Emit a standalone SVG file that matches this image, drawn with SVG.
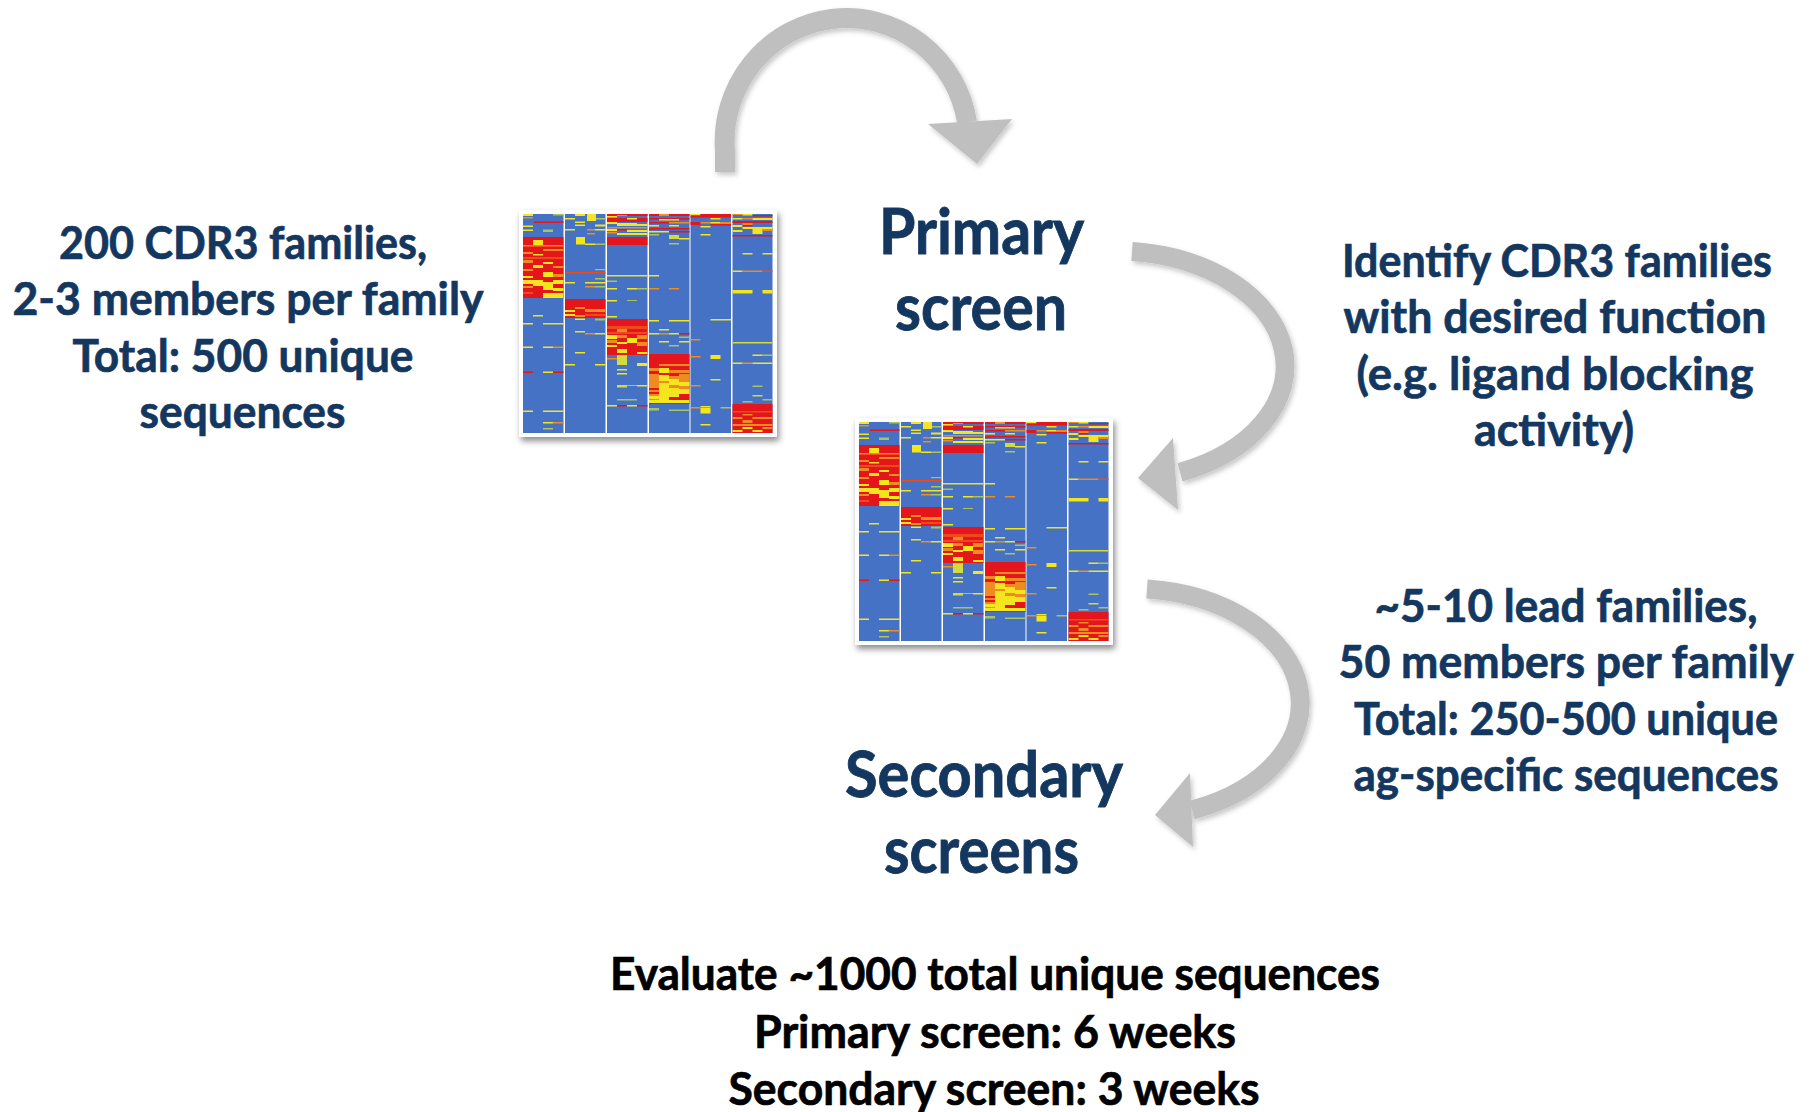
<svg xmlns="http://www.w3.org/2000/svg" xmlns:xlink="http://www.w3.org/1999/xlink" width="1815" height="1112" viewBox="0 0 1815 1112">
<style>
.t{font-family:Lato,"Open Sans","Liberation Sans",sans-serif;font-weight:700;fill:#14375f;stroke:#14375f;stroke-width:0.7;text-anchor:middle}
.body{font-size:46px}
.title{font-size:64px;stroke-width:0.9}
.blk{fill:#000;stroke:#000}
.b{fill:#4472c4}.r{fill:#e4141b}.ro{fill:#ec4a1e}.o{fill:#f08a22}.y{fill:#f3e61d}.yg{fill:#d2dc3c}.g{fill:#a8c45e}
.arr{fill:none;stroke:#bfbfbf;stroke-linecap:butt}
.head{fill:#bfbfbf}
</style>
<defs>
<filter id="shadow" x="-10%" y="-10%" width="130%" height="130%">
<feDropShadow dx="2" dy="4" stdDeviation="3" flood-color="#000" flood-opacity="0.45"/>
</filter>
<filter id="ashadow" x="-10%" y="-10%" width="130%" height="130%">
<feDropShadow dx="2" dy="3" stdDeviation="2.5" flood-color="#000" flood-opacity="0.22"/>
</filter>
<filter id="soft" x="0" y="0" width="100%" height="100%">
<feGaussianBlur stdDeviation="0.35"/>
</filter>
<g id="hm">
<rect x="0" y="0" width="249.5" height="219" fill="#fff"/>
<rect class="b" x="0" y="0" width="40.5" height="219"/>
<rect class="b" x="42" y="0" width="40.5" height="219"/>
<rect class="b" x="84" y="0" width="40.5" height="219"/>
<rect class="b" x="126" y="0" width="40.5" height="219"/>
<rect class="b" x="167.5" y="0" width="40.5" height="219"/>
<rect class="b" x="209.5" y="0" width="40" height="219"/>
<!-- column 1 -->
<rect class="y" x="0" y="0" width="10" height="2"/>
<rect class="o" x="0" y="3" width="10" height="1.5"/>
<rect class="g" x="30" y="0" width="10.5" height="1.5"/>
<rect class="r" x="11" y="7.5" width="29.5" height="1.5"/>
<rect class="y" x="0" y="11.5" width="10" height="1.5"/>
<rect class="y" x="0" y="15.5" width="10" height="1.5"/>
<rect class="g" x="20" y="15.5" width="10" height="2.5"/>
<rect class="r" x="0" y="23" width="40.5" height="61"/>
<rect class="y" x="10" y="26" width="10" height="5"/>
<rect class="o" x="0" y="31" width="40.5" height="1.5"/>
<rect class="o" x="20" y="35" width="20.5" height="2"/>
<rect class="o" x="0" y="38" width="10" height="2"/>
<rect class="y" x="10" y="40" width="10" height="1.5"/>
<rect class="ro" x="0" y="43" width="40.5" height="2"/>
<rect class="o" x="0" y="46" width="10" height="3"/>
<rect class="y" x="20" y="48" width="10" height="2"/>
<rect class="y" x="10" y="51" width="10" height="3"/>
<rect class="o" x="30" y="52" width="10.5" height="2"/>
<rect class="o" x="0" y="55" width="10" height="2"/>
<rect class="y" x="20" y="58" width="10" height="5"/>
<rect class="o" x="30" y="60" width="10.5" height="3"/>
<rect class="y" x="0" y="62" width="10" height="2"/>
<rect class="y" x="0" y="66" width="20" height="4"/>
<rect class="y" x="10" y="70" width="10" height="2"/>
<rect class="y" x="20" y="68" width="10" height="8"/>
<rect class="y" x="30" y="66" width="10.5" height="4"/>
<rect class="y" x="30" y="74" width="10.5" height="3"/>
<rect class="o" x="0" y="72" width="10" height="2"/>
<rect class="y" x="20" y="79" width="20.5" height="5"/>
<rect class="ro" x="0" y="78" width="10" height="2"/>
<rect class="y" x="10" y="101" width="10" height="1.5"/>
<rect class="y" x="0" y="109" width="10" height="1.5"/>
<rect class="y" x="20" y="109" width="20.5" height="1.5"/>
<rect class="y" x="0" y="132.5" width="10" height="1.5"/>
<rect class="y" x="20" y="132.5" width="10" height="1.5"/>
<rect class="o" x="30" y="132.5" width="10.5" height="1.5"/>
<rect class="r" x="0" y="157.5" width="10" height="1.5"/>
<rect class="y" x="20" y="157.5" width="10" height="1.5"/>
<rect class="r" x="30" y="157.5" width="10.5" height="1.5"/>
<rect class="y" x="0" y="196.5" width="10" height="1.5"/>
<rect class="y" x="20" y="196.5" width="20.5" height="1.5"/>
<rect class="y" x="20" y="208" width="10" height="1.5"/>
<rect class="o" x="30" y="208" width="10.5" height="1.5"/>
<rect class="g" x="20" y="214" width="10" height="1.5"/>
<!-- column 2 -->
<rect class="y" x="52" y="0" width="10" height="2"/>
<rect class="y" x="64" y="0" width="9" height="7"/>
<rect class="y" x="42" y="4" width="10" height="1.5"/>
<rect class="g" x="73" y="4" width="9.5" height="1.5"/>
<rect class="y" x="52" y="7.5" width="10" height="1.5"/>
<rect class="y" x="52" y="10.5" width="10" height="1.5"/>
<rect class="y" x="72" y="10.5" width="10.5" height="2"/>
<rect class="y" x="42" y="15" width="10" height="1.5"/>
<rect class="o" x="64" y="15" width="8" height="1.5"/>
<rect class="y" x="72" y="15" width="10.5" height="1.5"/>
<rect class="o" x="64" y="19" width="8" height="1.5"/>
<rect class="y" x="53" y="23" width="9" height="7.5"/>
<rect class="y" x="62" y="29.5" width="10" height="1.5"/>
<rect class="g" x="72" y="29.5" width="10.5" height="1.5"/>
<rect class="g" x="72" y="55" width="10.5" height="1.2"/>
<rect class="ro" x="42" y="58" width="40.5" height="1.5"/>
<rect class="g" x="72" y="64" width="10.5" height="1.5"/>
<rect class="y" x="42" y="68" width="10" height="1.5"/>
<rect class="y" x="62" y="68" width="20.5" height="1.5"/>
<rect class="o" x="62" y="72" width="10" height="1.5"/>
<rect class="g" x="72" y="72" width="10.5" height="1.5"/>
<rect class="r" x="42" y="85" width="40.5" height="19"/>
<rect class="o" x="52" y="93" width="10" height="2"/>
<rect class="y" x="42" y="96" width="10" height="2"/>
<rect class="o" x="62" y="95" width="20.5" height="3"/>
<rect class="y" x="42" y="100" width="10" height="2"/>
<rect class="o" x="52" y="101" width="10" height="2"/>
<rect class="ro" x="62" y="100" width="20.5" height="2"/>
<rect class="y" x="52" y="104.5" width="10" height="1.5"/>
<rect class="g" x="72" y="104.5" width="10.5" height="2"/>
<rect class="y" x="52" y="117" width="10" height="1.5"/>
<rect class="o" x="62" y="119" width="10" height="1.5"/>
<rect class="y" x="72" y="119" width="10.5" height="1.5"/>
<rect class="y" x="52" y="138" width="10" height="1.5"/>
<rect class="y" x="42" y="150" width="10" height="1.5"/>
<rect class="y" x="72" y="150" width="10.5" height="1.5"/>
<!-- column 3 -->
<rect class="r" x="84" y="0" width="40.5" height="2"/>
<rect class="o" x="94" y="1" width="10" height="1"/>
<rect class="y" x="84" y="2" width="10" height="1.5"/>
<rect class="r" x="84" y="4" width="40.5" height="4"/>
<rect class="y" x="104" y="4" width="10" height="1.5"/>
<rect class="y" x="84" y="8" width="10" height="2"/>
<rect class="y" x="94" y="9" width="20" height="3"/>
<rect class="y" x="114" y="10" width="10.5" height="2"/>
<rect class="o" x="84" y="13" width="40.5" height="1.5"/>
<rect class="y" x="84" y="15" width="10" height="2"/>
<rect class="r" x="94" y="15" width="10" height="1.5"/>
<rect class="y" x="104" y="16" width="20.5" height="2"/>
<rect class="o" x="84" y="18" width="10" height="1.5"/>
<rect class="y" x="94" y="19" width="30.5" height="2"/>
<rect class="r" x="84" y="23" width="40.5" height="8"/>
<rect class="y" x="84" y="61" width="40.5" height="1.5"/>
<rect class="g" x="84" y="66.5" width="10" height="1.5"/>
<rect class="y" x="84" y="74" width="10" height="1.5"/>
<rect class="y" x="104" y="74" width="10" height="1.5"/>
<rect class="g" x="114" y="74" width="10.5" height="1.5"/>
<rect class="y" x="84" y="86" width="10" height="1.5"/>
<rect class="g" x="104" y="86" width="10" height="1"/>
<rect class="y" x="84" y="102" width="10" height="1.5"/>
<rect class="r" x="84" y="105" width="40.5" height="36"/>
<rect class="ro" x="84" y="112" width="40.5" height="3"/>
<rect class="o" x="94" y="115" width="10" height="3"/>
<rect class="ro" x="84" y="118" width="40.5" height="2"/>
<rect class="y" x="84" y="121" width="10" height="4"/>
<rect class="o" x="94" y="121" width="10" height="3"/>
<rect class="y" x="104" y="124" width="10" height="5"/>
<rect class="o" x="114" y="121" width="10.5" height="4"/>
<rect class="o" x="84" y="126" width="10" height="3"/>
<rect class="y" x="94" y="128" width="10" height="2"/>
<rect class="o" x="114" y="128" width="10.5" height="4"/>
<rect class="y" x="84" y="131" width="10" height="2"/>
<rect class="y" x="94" y="135" width="10" height="4"/>
<rect class="y" x="114" y="138" width="10.5" height="2"/>
<rect class="yg" x="94" y="141" width="10" height="10"/>
<rect class="y" x="114" y="149" width="10.5" height="3"/>
<rect class="o" x="84" y="144" width="10" height="1.5"/>
<rect class="y" x="94" y="155" width="10" height="1.5"/>
<rect class="y" x="94" y="159" width="10" height="1.5"/>
<rect class="yg" x="94" y="171" width="10" height="2.5"/>
<rect class="g" x="104" y="171" width="10" height="1"/>
<rect class="y" x="114" y="171" width="10.5" height="1.5"/>
<rect class="g" x="94" y="185" width="20" height="1.5"/>
<rect class="y" x="84" y="191" width="10" height="1.5"/>
<rect class="r" x="94" y="191" width="10" height="1.5"/>
<rect class="y" x="104" y="191" width="10" height="1.5"/>
<rect class="r" x="114" y="191" width="10.5" height="1.5"/>
<!-- column 4 -->
<rect class="r" x="126" y="0" width="40.5" height="2"/>
<rect class="o" x="136" y="0" width="10" height="2"/>
<rect class="r" x="126" y="4" width="40.5" height="1.5"/>
<rect class="y" x="136" y="5" width="20" height="1.5"/>
<rect class="r" x="126" y="8" width="20" height="1.5"/>
<rect class="o" x="146" y="8" width="20.5" height="1.5"/>
<rect class="y" x="126" y="11" width="10" height="1.5"/>
<rect class="y" x="146" y="11" width="10" height="1.5"/>
<rect class="r" x="126" y="14" width="40.5" height="1.5"/>
<rect class="y" x="126" y="17" width="20" height="1.5"/>
<rect class="r" x="146" y="17" width="20.5" height="1.5"/>
<rect class="g" x="126" y="20" width="10" height="1.5"/>
<rect class="yg" x="146" y="21" width="10" height="4"/>
<rect class="y" x="156" y="24" width="10.5" height="1.5"/>
<rect class="g" x="146" y="29" width="10" height="1.5"/>
<rect class="y" x="126" y="61" width="10" height="1.5"/>
<rect class="o" x="126" y="74" width="10" height="1.5"/>
<rect class="o" x="146" y="74" width="10" height="1.5"/>
<rect class="y" x="126" y="106" width="10" height="1.5"/>
<rect class="y" x="146" y="106" width="20.5" height="1.5"/>
<rect class="y" x="136" y="115" width="10" height="1.5"/>
<rect class="y" x="126" y="119" width="10" height="1.5"/>
<rect class="o" x="136" y="119" width="10" height="1.5"/>
<rect class="y" x="146" y="119" width="10" height="1.5"/>
<rect class="r" x="156" y="119" width="10.5" height="1.5"/>
<rect class="g" x="156" y="122.5" width="10.5" height="1.5"/>
<rect class="y" x="136" y="127" width="10" height="1.5"/>
<rect class="y" x="156" y="127" width="10.5" height="1.5"/>
<rect class="g" x="146" y="131" width="10" height="1.5"/>
<rect class="r" x="126" y="140" width="40.5" height="50"/>
<rect class="o" x="136" y="150" width="30.5" height="2"/>
<rect class="y" x="136" y="154" width="10" height="5"/>
<rect class="o" x="126" y="154" width="10" height="3"/>
<rect class="o" x="146" y="156" width="20.5" height="3"/>
<rect class="o" x="126" y="160" width="10" height="14"/>
<rect class="y" x="136" y="161" width="10" height="6"/>
<rect class="o" x="136" y="167" width="10" height="2"/>
<rect class="y" x="136" y="169" width="10" height="17"/>
<rect class="o" x="146" y="162" width="10" height="3"/>
<rect class="y" x="146" y="165" width="10" height="6"/>
<rect class="o" x="146" y="171" width="10" height="3"/>
<rect class="y" x="146" y="174" width="10" height="9"/>
<rect class="o" x="156" y="160" width="10.5" height="20"/>
<rect class="y" x="156" y="168" width="10.5" height="4"/>
<rect class="y" x="156" y="175" width="10.5" height="5"/>
<rect class="o" x="126" y="176" width="10" height="10"/>
<rect class="r" x="126" y="178" width="10" height="2"/>
<rect class="y" x="126" y="182" width="10" height="3"/>
<rect class="y" x="126" y="186" width="40.5" height="3"/>
<rect class="g" x="126" y="194" width="10" height="2.5"/>
<rect class="g" x="146" y="195.5" width="20.5" height="1.5"/>
<!-- column 5 -->
<rect class="y" x="167.5" y="0" width="10" height="1"/>
<rect class="r" x="177.5" y="0" width="30.5" height="2"/>
<rect class="r" x="167.5" y="2" width="40.5" height="1.5"/>
<rect class="y" x="187.5" y="4" width="10" height="1.5"/>
<rect class="r" x="167.5" y="8" width="10" height="3"/>
<rect class="o" x="177.5" y="8" width="10" height="1.5"/>
<rect class="y" x="187.5" y="8" width="10" height="1.5"/>
<rect class="o" x="197.5" y="8" width="10.5" height="2"/>
<rect class="r" x="187.5" y="10" width="20.5" height="1.5"/>
<rect class="y" x="177.5" y="12" width="10" height="1.5"/>
<rect class="y" x="177.5" y="20" width="10" height="1.5"/>
<rect class="y" x="187.5" y="105" width="20.5" height="1.5"/>
<rect class="o" x="167.5" y="125" width="10" height="1.5"/>
<rect class="o" x="167.5" y="142" width="10" height="1.5"/>
<rect class="y" x="187.5" y="141" width="10" height="4"/>
<rect class="y" x="187.5" y="165" width="10" height="1.5"/>
<rect class="o" x="167.5" y="171" width="10" height="1.5"/>
<rect class="y" x="177.5" y="192" width="10" height="1.5"/>
<rect class="o" x="167.5" y="193" width="10" height="1.5"/>
<rect class="g" x="197.5" y="193" width="10.5" height="1.5"/>
<rect class="y" x="177.5" y="194" width="10" height="5.5"/>
<rect class="y" x="177.5" y="210" width="10" height="1.5"/>
<!-- column 6 -->
<rect class="o" x="209.5" y="0" width="10" height="1"/>
<rect class="y" x="219.5" y="0" width="10" height="1.5"/>
<rect class="r" x="229.5" y="1" width="20" height="1.5"/>
<rect class="y" x="209.5" y="4" width="10" height="1.5"/>
<rect class="o" x="219.5" y="4" width="10" height="1.5"/>
<rect class="y" x="229.5" y="4" width="20" height="2"/>
<rect class="r" x="209.5" y="7" width="40" height="2"/>
<rect class="o" x="219.5" y="9" width="10" height="2"/>
<rect class="y" x="209.5" y="11" width="10" height="2"/>
<rect class="r" x="219.5" y="11" width="10" height="1.5"/>
<rect class="y" x="219.5" y="13" width="30" height="2"/>
<rect class="y" x="229.5" y="14" width="10" height="6"/>
<rect class="y" x="209.5" y="16" width="10" height="2"/>
<rect class="o" x="239.5" y="15" width="10" height="2"/>
<rect class="r" x="209.5" y="21" width="40" height="1.5"/>
<rect class="y" x="219.5" y="39" width="10" height="1.5"/>
<rect class="y" x="239.5" y="39" width="10" height="1.5"/>
<rect class="y" x="209.5" y="56.5" width="10" height="1.5"/>
<rect class="o" x="219.5" y="56.5" width="20" height="1.5"/>
<rect class="ro" x="239.5" y="56.5" width="10" height="1.5"/>
<rect class="y" x="209.5" y="76" width="20" height="3.5"/>
<rect class="y" x="239.5" y="76" width="10" height="3.5"/>
<rect class="yg" x="209.5" y="128" width="40" height="1.5"/>
<rect class="y" x="229.5" y="140.5" width="10" height="1.5"/>
<rect class="g" x="239.5" y="140.5" width="10" height="1.5"/>
<rect class="y" x="209.5" y="148.5" width="10" height="1.5"/>
<rect class="o" x="219.5" y="148.5" width="10" height="1.5"/>
<rect class="y" x="229.5" y="148.5" width="20" height="1.5"/>
<rect class="g" x="229.5" y="171.5" width="10" height="1.5"/>
<rect class="yg" x="229.5" y="181" width="10" height="1.5"/>
<rect class="g" x="239.5" y="185" width="10" height="1.5"/>
<rect class="g" x="219.5" y="187" width="10" height="1.5"/>
<rect class="r" x="209.5" y="190" width="40" height="29"/>
<rect class="ro" x="209.5" y="197" width="40" height="1.5"/>
<rect class="o" x="219.5" y="200" width="10" height="1.5"/>
<rect class="o" x="209.5" y="203" width="10" height="2"/>
<rect class="o" x="229.5" y="203" width="20" height="2"/>
<rect class="o" x="219.5" y="206" width="10" height="3"/>
<rect class="o" x="209.5" y="210" width="40" height="2"/>
<rect class="y" x="219.5" y="213" width="10" height="2"/>
<rect class="o" x="239.5" y="213" width="10" height="2"/>
<rect class="y" x="209.5" y="216" width="10" height="2"/>
<rect class="y" x="229.5" y="216" width="10" height="2"/>
</g>
</defs>

<rect x="0" y="0" width="1815" height="1112" fill="#fff"/>

<g id="connectors">
<g id="arrow-top" filter="url(#ashadow)">
<path class="arr" stroke-width="20" d="M 725 172 L 725 152 A 122 124 0 0 1 967 122"/>
<polygon class="head" points="928,124 1012,119 977,164"/>
</g>
<g id="arrow-right-1" filter="url(#ashadow)">
<path class="arr" stroke-width="19" d="M 1132 251.6 A 170 115 0 0 1 1180 472.3"/>
<polygon class="head" points="1173,438 1178,510 1138,478"/>
</g>
<g id="arrow-right-2" filter="url(#ashadow)">
<path class="arr" stroke-width="19" d="M 1147 589 A 170 114.7 0 0 1 1192 810"/>
<polygon class="head" points="1190,773 1193,847 1155,815"/>
</g>
</g>

<g id="heatmap-1">
<rect x="519" y="210" width="258" height="227" fill="#fff" filter="url(#shadow)"/>
<use xlink:href="#hm" href="#hm" x="523" y="214" filter="url(#soft)"/>
</g>
<g id="heatmap-2">
<rect x="855" y="418" width="258" height="227" fill="#fff" filter="url(#shadow)"/>
<use xlink:href="#hm" href="#hm" x="859" y="422" filter="url(#soft)"/>
</g>

<g id="node-library">
<text class="t body" x="243" y="259" textLength="368" lengthAdjust="spacingAndGlyphs">200 CDR3 families,</text>
<text class="t body" x="248" y="315" textLength="471" lengthAdjust="spacingAndGlyphs">2-3 members per family</text>
<text class="t body" x="243" y="372" textLength="341" lengthAdjust="spacingAndGlyphs">Total: 500 unique</text>
<text class="t body" x="242.5" y="428" textLength="206" lengthAdjust="spacingAndGlyphs">sequences</text>
</g>

<g id="node-primary">
<text class="t title" x="981.5" y="254" textLength="205" lengthAdjust="spacingAndGlyphs">Primary</text>
<text class="t title" x="981" y="330" textLength="172" lengthAdjust="spacingAndGlyphs">screen</text>
</g>

<g id="node-identify">
<text class="t body" x="1557" y="277" textLength="430" lengthAdjust="spacingAndGlyphs">Identify CDR3 families</text>
<text class="t body" x="1555" y="333" textLength="423" lengthAdjust="spacingAndGlyphs">with desired function</text>
<text class="t body" x="1555" y="390" textLength="397" lengthAdjust="spacingAndGlyphs">(e.g. ligand blocking</text>
<text class="t body" x="1554" y="446" textLength="160" lengthAdjust="spacingAndGlyphs">activity)</text>
</g>

<g id="node-lead">
<text class="t body" x="1566" y="622" textLength="383" lengthAdjust="spacingAndGlyphs">~5-10 lead families,</text>
<text class="t body" x="1566" y="678" textLength="455" lengthAdjust="spacingAndGlyphs">50 members per family</text>
<text class="t body" x="1566" y="735" textLength="424" lengthAdjust="spacingAndGlyphs">Total: 250-500 unique</text>
<text class="t body" x="1566" y="791" textLength="425" lengthAdjust="spacingAndGlyphs">ag-specific sequences</text>
</g>

<g id="node-secondary">
<text class="t title" x="984" y="797" textLength="278" lengthAdjust="spacingAndGlyphs">Secondary</text>
<text class="t title" x="981.5" y="873" textLength="195" lengthAdjust="spacingAndGlyphs">screens</text>
</g>

<g id="node-summary">
<text class="t body blk" x="995" y="990" textLength="770" lengthAdjust="spacingAndGlyphs">Evaluate ~1000 total unique sequences</text>
<text class="t body blk" x="995" y="1048" textLength="482" lengthAdjust="spacingAndGlyphs">Primary screen: 6 weeks</text>
<text class="t body blk" x="994" y="1105" textLength="531" lengthAdjust="spacingAndGlyphs">Secondary screen: 3 weeks</text>
</g>
</svg>
